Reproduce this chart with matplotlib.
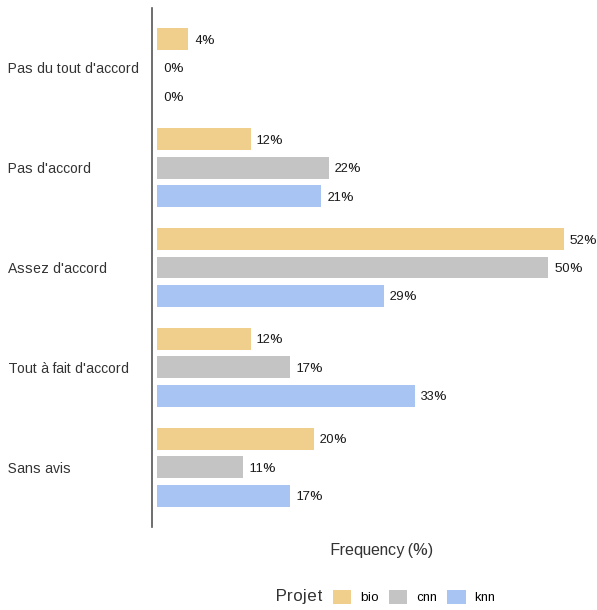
import matplotlib.pyplot as plt
from matplotlib.patches import Patch
from matplotlib.offsetbox import HPacker
from matplotlib.transforms import blended_transform_factory

plt.rcParams['font.family'] = ['Liberation Sans', 'DejaVu Sans']
plt.rcParams['text.hinting_factor'] = 1

categories = ["Pas du tout d'accord", "Pas d'accord", "Assez d'accord",
              "Tout à fait d'accord", "Sans avis"]
bio = [4, 12, 52, 12, 20]
cnn = [0, 22, 50, 17, 11]
knn = [0, 21, 29, 33, 17]
series = ['bio', 'cnn', 'knn']
colors = {'bio': '#F0CE8C', 'cnn': '#C4C4C4', 'knn': '#A7C4F2'}

fig = plt.figure(figsize=(5.97, 6.10), dpi=100)
ax = fig.add_axes([152/597, 1-527/610, (597-152)/597, 519/610])

offsets = {'bio': -0.285, 'cnn': 0.0, 'knn': 0.285}
values = {'bio': bio, 'cnn': cnn, 'knn': knn}
for s in series:
    ys = [i + offsets[s] for i in range(len(categories))]
    ax.barh(ys, values[s], height=0.22, color=colors[s])
    for y, v in zip(ys, values[s]):
        ax.text(v + 0.75, y, f"{v}%", va='center_baseline', ha='left',
                fontsize=9.5, color='#1a1a1a')

ax.set_xlim(-0.64, 56.2)
ax.set_ylim(4.6, -0.6)
ax.set_yticks([])
ax.set_xticks([])
for sp in ['top', 'right', 'bottom']:
    ax.spines[sp].set_visible(False)
ax.spines['left'].set_color('#555555')
ax.spines['left'].set_linewidth(1.2)

# left aligned category labels
trans = blended_transform_factory(fig.transFigure, ax.transData)
for i, c in enumerate(categories):
    ax.text(8/597, i, c, transform=trans, ha='left', va='center_baseline',
            fontsize=10.25, color='#333333')

fig.text(382/597, 1-551/610, 'Frequency (%)', ha='center', va='center',
         fontsize=11.5, color='#333333')

handles = [Patch(facecolor=colors[s], edgecolor='none') for s in series]
leg = fig.legend(handles, series, loc='center', bbox_to_anchor=(386/597, 1-597/610),
                 ncol=3, frameon=False, title='Projet', fontsize=9,
                 handlelength=1.45, handleheight=1.45, columnspacing=0.8,
                 handletextpad=0.72)
leg.get_title().set_fontsize(12)
leg.get_title().set_color('#333333')
# put title to the left of the entries
box = leg._legend_box
box.__class__ = HPacker
box.align = 'center'
box.sep = 7

fig.savefig('out.png', dpi=100)
